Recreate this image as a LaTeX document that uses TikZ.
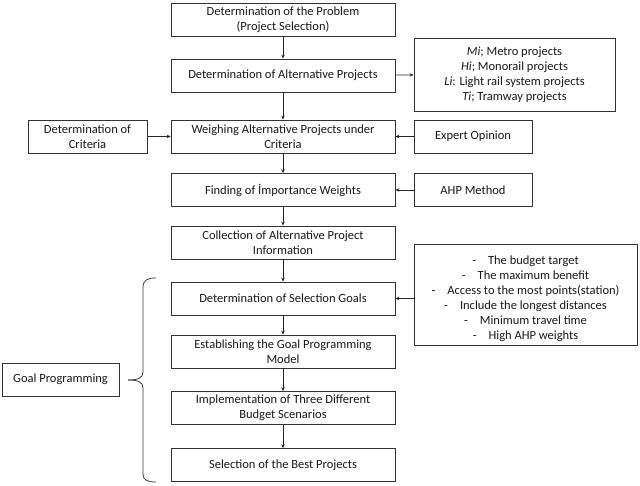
\documentclass[tikz,border=0pt]{standalone}
\usepackage{fontspec}
\setmainfont{Carlito}
\usetikzlibrary{arrows.meta}
\begin{document}
\begin{tikzpicture}[x=1pt,y=-1pt,
  box/.style={draw=black!80,line width=0.75pt,align=center,inner sep=2pt,
    font=\fontsize{12.5}{15}\selectfont,text=black!90},
  mainbox/.style={box,minimum width=224pt,minimum height=33pt},
  sidebox/.style={box,minimum width=118pt,minimum height=33pt},
  arr/.style={draw=black!85,line width=0.75pt,-{Stealth[length=4pt,width=3.5pt]}},
  lin/.style={draw=black!80,line width=0.75pt}]
\useasboundingbox (0,0) rectangle (640,485);
\node[mainbox] (p1) at (283,19.5) {Determination of the Problem\\(Project Selection)};
\node[mainbox] (p2) at (283,75.5) {Determination of Alternative Projects};
\node[mainbox] (p3) at (283,136.5) {Weighing Alternative Projects under\\Criteria};
\node[mainbox] (p4) at (283,190) {Finding of İmportance Weights};
\node[mainbox] (p5) at (283,242.5) {Collection of Alternative Project\\Information};
\node[mainbox] (p6) at (283,298.5) {Determination of Selection Goals};
\node[mainbox] (p7) at (283,351.5) {Establishing the Goal Programming\\Model};
\node[mainbox] (p8) at (283,408) {Implementation of Three Different\\Budget Scenarios};
\node[mainbox] (p9) at (283,465) {Selection of the Best Projects};
\node[box,minimum width=201pt,minimum height=73pt] (alt) at (514.5,74.5)
  {\textit{Mi}; Metro projects\\\textit{Hi}; Monorail projects\\\textit{Li}: Light rail system projects\\\textit{Ti}; Tramway projects};
\node[sidebox,minimum width=119pt] (crit) at (87.5,136.5) {Determination of\\Criteria};
\node[sidebox] (exp) at (473,136.5) {Expert Opinion};
\node[sidebox] (ahp) at (473,190) {AHP Method};
\node[box,minimum width=223pt,minimum height=101pt] (goals) at (525.5,294.5)
  {\rule{0pt}{18pt}-\hspace{12pt}The budget target\\
   -\hspace{12pt}The maximum benefit\\
   -\hspace{12pt}Access to the most points(station)\\
   -\hspace{12pt}Include the longest distances\\
   -\hspace{12pt}Minimum travel time\\
   -\hspace{12pt}High AHP weights};
\node[sidebox,minimum width=117pt] (gp) at (60.5,379.5) {Goal Programming};
\foreach \a/\b in {p1/p2,p2/p3,p3/p4,p4/p5,p5/p6,p6/p7,p7/p8,p8/p9}
  \draw[arr] (\a) -- (\b);
\draw[arr] (p2) -- (alt);
\draw[arr] (crit) -- (p3);
\draw[arr] (exp) -- (p3);
\draw[arr] (ahp) -- (p4);
\draw[arr] (goals.west |- p6) -- (p6.east);
\coordinate (bt) at (156,278);
\coordinate (bm) at (128,380);
\coordinate (bb) at (156,482);
\draw[lin] (bt) .. controls (147,278) and (143,280) .. (143,288) -- (143,372)
  .. controls (143,378) and (138,380) .. (bm);
\draw[lin] (bm) .. controls (138,380) and (143,382) .. (143,388) -- (143,474)
  .. controls (143,480) and (147,482) .. (bb);
\end{tikzpicture}
\end{document}
